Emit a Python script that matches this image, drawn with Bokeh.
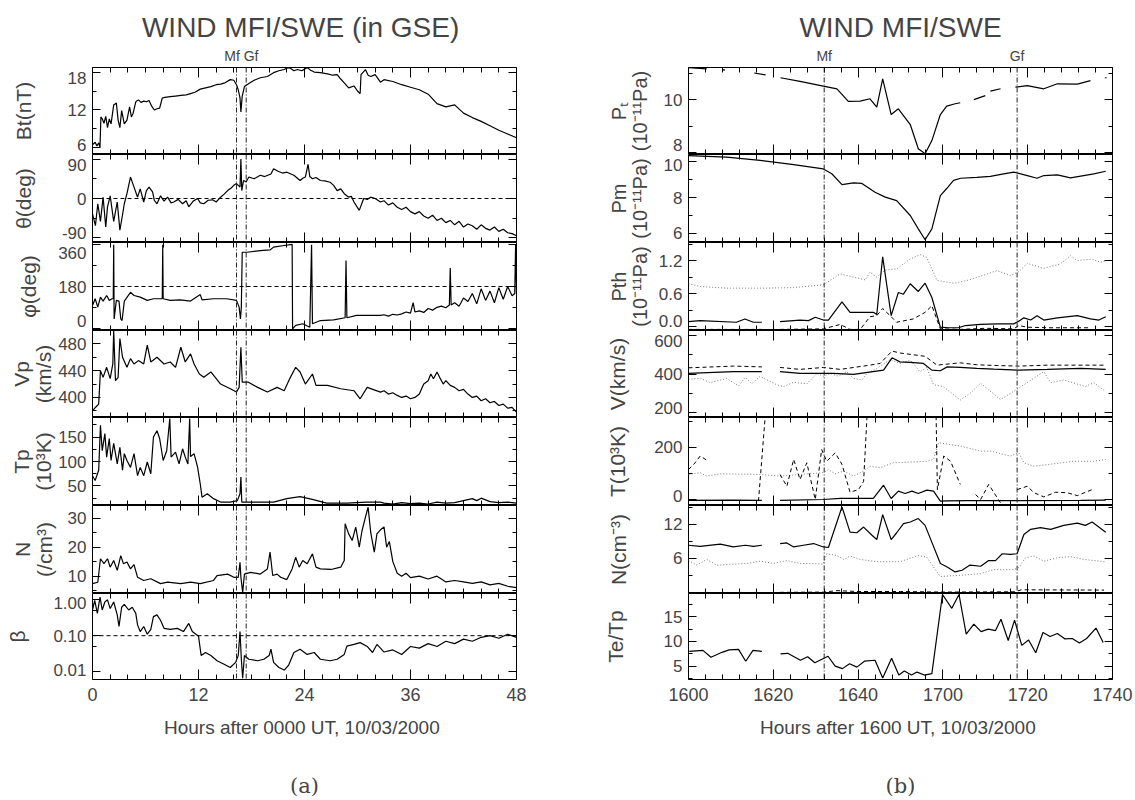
import math
from bokeh.plotting import figure
from bokeh.models import Range1d, LinearAxis, FixedTicker, Span
from bokeh.layouts import row, column
from bokeh.embed import file_html
from bokeh.resources import INLINE

NaN = float("nan")
FONT = "Liberation Sans"

# ---------------- Panel (a): hours after 0000 UT, 10/03/2000 ----------------
BT = [(0.0,6.5),(0.3,6.9),(0.5,6.3),(0.7,6.8),(0.85,6.1),(0.95,10.9),(1.1,10.6),(1.3,9.9),(1.5,11.0),(1.7,9.2),
      (1.9,10.6),(2.1,9.8),(2.4,12.8),(2.7,13.1),(2.9,10.4),(3.1,9.2),(3.3,11.9),(3.6,9.8),(3.9,10.4),(4.2,12.5),
      (4.4,10.9),(4.6,11.5),(4.9,13.3),(5.2,13.6),(5.5,13.2),(5.8,13.4),(6.1,13.3),(6.4,13.5),(6.7,12.6),(7.0,12.0),
      (7.3,12.2),(7.6,12.3),(7.9,13.9),(8.2,14.0),(8.8,14.1),(9.4,14.2),(10.0,14.3),(10.6,14.4),(11.1,14.6),(11.6,14.8),
      (12.2,15.3),(12.8,15.5),(13.4,15.7),(14.0,16.0),(14.5,16.1),(15.0,16.3),(15.6,16.8),(16.0,16.7),(16.3,16.0),
      (16.5,15.2),(16.7,13.9),(16.8,11.7),(16.95,14.2),(17.2,15.7),(17.7,16.2),(18.3,16.7),(19.0,17.1),(19.8,17.3),
      (20.5,17.9),(21.1,18.2),(21.7,18.4),(22.1,18.7),(22.4,18.6),(22.8,18.2),(23.2,18.4),(23.7,18.2),(24.3,18.7),
      (24.7,18.3),(25.1,18.0),(25.8,17.9),(26.6,17.7),(27.2,17.5),(27.7,17.6),(28.1,16.9),(28.5,16.3),(29.0,15.5),
      (29.6,15.8),(30.0,15.0),(30.2,14.7),(30.3,14.6),(30.4,17.6),(30.9,18.4),(31.2,17.5),(31.5,17.3),(32.0,17.6),
      (32.6,16.4),(33,16.8),(34,16.5),(35,16.0),(36,15.6),(37,15.2),(38,14.5),(39,13.0),(40,12.5),(41,12.8),
      (42,11.5),(43,10.8),(44,10.2),(45,9.5),(46,8.8),(47,8.2),(48,7.6)]

THETA = [(0.0,-35),(0.33,-62),(0.6,-12),(0.9,-52),(1.2,3),(1.5,-65),(1.7,-19),(2.0,6),(2.4,-52),(2.8,-8),(3.1,-72),
         (3.4,-37),(3.6,-12),(3.9,11),(4.3,49),(4.7,26),(5.1,3),(5.4,22),(5.8,-8),(6.1,18),(6.4,26),(6.8,15),(7.0,-4),
         (7.3,-12),(7.7,6),(8.1,-6),(8.5,3),(8.9,-10),(9.2,-8),(9.7,-2),(10.2,-12),(10.6,-5),(10.9,-19),(11.4,-6),
         (11.9,0),(12.2,-10),(12.6,-12),(13.1,-4),(13.6,-3),(14.0,-8),(14.5,3),(14.9,10),(15.3,18),(15.7,24),(16.0,30),
         (16.3,34),(16.5,30),(16.7,26),(16.8,90),(16.9,18),(17.1,41),(17.4,38),(17.7,49),(18.3,45),(19.0,53),(19.5,50),
         (20.2,56),(20.5,68),(21.0,62),(21.5,58),(22.0,60),(22.8,53),(23.5,41),(23.8,46),(24.1,49),(24.4,78),(24.6,50),
         (24.9,45),(25.3,48),(25.8,41),(26.3,40),(26.9,37),(27.3,30),(27.7,18),(28.1,22),(28.5,11),(29.0,3),(29.3,5),
         (29.6,-8),(30.2,-27),(30.7,0),(31.1,-2),(31.5,3),(32.0,0),(32.6,-8),(33,-5),(33.5,-15),(34,-10),(34.5,-20),
         (35,-25),(35.5,-20),(36,-30),(36.5,-35),(37,-30),(37.5,-40),(38,-45),(38.5,-38),(39,-50),(39.5,-45),(40,-55),
         (40.5,-50),(41,-60),(41.5,-52),(42,-65),(42.5,-58),(43,-62),(43.5,-70),(44,-60),(44.5,-68),(45,-72),(45.5,-65),
         (46,-75),(46.5,-70),(47,-78),(47.5,-80),(48,-85)]

PHI = [(0.0,98),(0.3,127),(0.6,91),(0.9,134),(1.2,117),(1.6,141),(1.9,120),(2.2,127),(2.35,127),(2.4,360),(2.45,40),
       (2.7,120),(3.0,117),(3.2,40),(3.35,33),(3.6,117),(4.3,155),(4.7,141),(5.4,134),(6.2,120),(6.9,127),(7.9,127),
       (7.95,360),(8.0,127),(8.8,120),(9.9,122),(11.1,117),(12.2,145),(12.4,122),(13.7,127),(15.2,127),(16.3,120),
       (16.6,91),(16.75,40),(16.85,91),(16.95,328),(17.5,328),(19.0,335),(20.1,338),(20.5,350),(21.7,357),(22.6,362),
       (22.65,-3),(23.0,12),(23.8,19),(24.6,4),(24.8,360),(24.9,19),(25.8,33),(27.3,36),(28.6,45),(28.7,292),(28.8,45),
       (29.9,55),(31.1,55),(32.6,55),(33,58),(33.5,52),(34,60),(34.5,57),(35,62),(35.5,70),(36,65),(36.3,110),(36.5,70),
       (37,75),(37.5,68),(38,85),(38.5,78),(39,90),(39.5,95),(40,88),(40.4,100),(40.5,260),(40.6,100),(41,110),
       (41.5,95),(42,130),(42.5,115),(43,150),(43.5,105),(44,170),(44.5,120),(45,160),(45.5,110),(46,175),(46.5,125),
       (47,180),(47.5,140),(47.8,150),(47.9,360),(48,150)]

VP = [(0.0,380),(0.33,385),(0.7,390),(0.9,440),(1.2,430),(1.6,445),(2.0,428),(2.3,450),(2.4,500),(2.6,425),(2.9,430),
      (3.1,488),(3.4,460),(3.9,445),(4.3,458),(4.7,450),(5.2,455),(5.8,450),(6.2,478),(6.6,453),(7.3,460),(8.1,450),
      (8.8,453),(9.4,445),(10.0,475),(10.5,453),(11.1,465),(11.5,450),(12.1,435),(12.6,430),(13.4,438),(14.5,420),
      (15.6,413),(16.3,408),(16.6,415),(16.8,475),(16.95,423),(17.6,423),(18.7,415),(19.8,408),(20.9,415),(21.7,410),
      (22.4,430),(23.0,445),(23.5,438),(24.1,420),(24.9,435),(25.3,418),(26.6,418),(28.1,413),(29.6,410),(30.3,398),
      (31.1,415),(32.6,408),(33,410),(33.5,405),(34,407),(34.5,403),(35,400),(35.5,402),(36,398),(36.5,400),(37,405),
      (37.5,420),(38,425),(38.3,435),(38.6,428),(39,438),(39.3,430),(39.7,420),(40,425),(40.5,418),(41,415),
      (41.5,410),(42,412),(42.5,405),(43,400),(43.5,402),(44,395),(44.5,398),(45,392),(45.5,394),(46,388),(46.5,390),
      (47,384),(47.5,385),(48,378)]

TP = [(0.0,71),(0.3,61),(0.7,82),(0.9,174),(1.1,122),(1.4,157),(1.6,109),(1.9,147),(2.1,102),(2.4,137),(2.8,95),
      (3.1,129),(3.4,82),(3.6,116),(3.9,102),(4.3,88),(4.7,116),(5.1,71),(5.4,88),(5.8,71),(6.2,99),(6.6,75),(6.9,150),
      (7.3,163),(7.6,147),(8.0,102),(8.4,122),(8.75,188),(8.9,109),(9.4,119),(9.8,95),(10.2,126),(10.5,109),(10.8,95),
      (11.0,188),(11.1,110),(11.5,116),(11.9,88),(12.2,54),(12.4,27),(13.0,34),(13.7,24),(14.5,17),(15.6,17),(16.4,20),
      (16.7,34),(16.8,68),(16.9,17),(18.3,17),(20.5,17),(22.0,24),(23.5,28),(25.0,22),(26.5,15),(28.8,15),(31.0,17),
      (32.6,17),(33,15),(34,13),(35,16),(36,14),(37,15),(38,13),(39,17),(40,15),(41,16),(42,20),(43,24),(43.5,20),
      (44,25),(45,18),(46,16),(47,17),(48,15)]

NA = [(0.0,7.4),(0.6,7.9),(0.9,16.0),(1.3,14.3),(1.7,16.0),(2.0,13.1),(2.4,15.4),(2.8,12.0),(3.2,17.1),(3.5,14.3),
      (3.9,14.9),(4.3,12.5),(4.7,14.0),(5.1,9.6),(5.8,8.5),(6.6,9.1),(7.7,7.4),(8.5,7.9),(10.0,7.4),(11.1,7.9),
      (12.2,7.4),(13.7,8.5),(14.1,10.2),(15.3,10.7),(16.0,9.6),(16.5,9.6),(16.7,14.8),(16.8,9.6),(17.0,4.4),(17.2,10.7),
      (17.9,11.3),(19.0,10.7),(19.8,12.5),(20.1,18.3),(20.4,10.2),(20.9,10.7),(21.3,9.6),(22.0,8.8),(22.6,12.5),
      (23.0,16.5),(23.4,13.1),(23.8,15.4),(24.3,14.3),(24.9,17.7),(25.3,13.1),(25.8,12.5),(27.0,12.3),(28.1,13.1),
      (28.5,15.4),(28.6,28.1),(29.0,24.6),(29.4,22.3),(29.8,26.9),(30.2,20.0),(30.5,25.5),(30.9,30.4),(31.2,33.8),
      (31.5,25.0),(31.9,18.3),(32.2,24.6),(32.6,26),(33,27),(33.3,20),(33.6,22),(34,15),(34.5,11),(35,10),(35.5,11),
      (36,9.5),(37,10),(38,9),(39,10),(39.5,9),(40,8),(41,8.5),(42,8),(43,7.5),(44,8),(45,7),(46,7.5),(47,6.5),(48,6)]

BETA = [(0.0,0.52),(0.25,0.97),(0.55,0.42),(0.85,1.19),(1.1,0.52),(1.4,0.87),(1.7,1.0),(2.0,0.57),(2.4,0.87),(2.8,0.38),
        (3.0,0.18),(3.3,0.62),(3.6,0.75),(4.1,0.52),(4.5,0.62),(4.9,0.42),(5.1,0.2),(5.4,0.13),(5.8,0.18),(6.2,0.11),
        (6.6,0.15),(6.9,0.34),(7.3,0.38),(7.7,0.27),(8.1,0.16),(8.8,0.15),(9.6,0.16),(10.3,0.13),(10.9,0.22),(11.3,0.13),
        (12.0,0.097),(12.3,0.028),(12.8,0.034),(13.4,0.028),(14.1,0.020),(14.9,0.016),(15.6,0.013),(16.2,0.018),
        (16.5,0.028),(16.7,0.13),(16.85,0.022),(17.0,0.0065),(17.2,0.028),(17.7,0.022),(18.7,0.020),(19.4,0.022),
        (20.0,0.028),(20.2,0.042),(20.5,0.018),(21.1,0.013),(21.7,0.011),(22.2,0.015),(22.8,0.034),(23.5,0.042),
        (24.3,0.030),(25.1,0.034),(25.8,0.022),(26.9,0.020),(27.7,0.022),(28.5,0.030),(28.8,0.051),(29.6,0.057),
        (30.3,0.064),(31.1,0.05),(31.7,0.034),(32.2,0.057),(32.6,0.045),(33,0.035),(34,0.04),(35,0.03),(36,0.05),
        (37,0.045),(38,0.06),(39,0.05),(40,0.07),(41,0.06),(42,0.08),(43,0.07),(44,0.09),(45,0.1),(46,0.085),
        (47,0.11),(48,0.09)]

MF_A, GF_A = 16.3, 17.4

# ---------------- Panel (b): minutes after 1600 UT ----------------
PT = [(0,11.22),(4.3,11.18),(4.5,NaN),(8.0,11.15),(8.6,11.13),(8.8,NaN),(15.5,11.02),(18.2,10.95),(18.4,NaN),
      (21.7,10.84),(26.3,10.7),(31.8,10.52),(35.0,10.42),(37.7,9.94),(40.5,9.95),(42.8,10.04),(44.4,9.72),(45.8,10.8),
      (47.8,9.44),(49.5,9.66),(52.3,9.06),(54.2,8.14),(55.8,7.95),(57.4,8.45),(59.4,9.44),(60.9,9.76),(62.9,9.85),
      (64.1,9.89),(64.5,NaN),(67.3,10.01),(70.0,10.16),(70.5,NaN),(71.2,10.33),(73.6,10.42),(74.0,NaN),(77.1,10.48),
      (79.9,10.54),(83.8,10.42),(87.0,10.61),(91.7,10.6),(94.8,10.73),(95.2,NaN),(98.2,10.84),(98.6,10.84)]

PM = [(0,10.33),(9.0,10.24),(16.9,10.06),(24.8,9.83),(31.8,9.59),(33.8,9.32),(36.2,8.72),(38.9,8.81),(40.9,8.78),
      (44.0,8.29),(46.4,8.02),(49.1,7.83),(52.3,7.0),(54.2,6.26),(55.8,5.65),(57.4,6.26),(59.4,8.11),(60.9,8.5),
      (62.5,8.95),(64.2,9.07),(68.0,9.12),(71.2,9.17),(74.0,9.3),(76.7,9.41),(79.9,9.22),(82.2,9.07),(83.8,9.22),
      (87.0,9.26),(90.1,9.09),(95.6,9.31),(98.4,9.46)]

PTH_SOLID = [(0,0.09),(2.75,0.11),(11.3,0.08),(13.3,0.14),(15.3,0.08),(17.3,0.08),(17.5,NaN),(21.6,0.09),(26.3,0.12),
             (28.3,0.11),(29.9,0.17),(31.8,0.12),(33.0,0.12),(36.2,0.45),(38.1,0.26),(43.6,0.26),(44.4,0.22),
             (45.8,1.27),(47.8,0.2),(49.5,0.62),(50.7,0.59),(52.3,0.78),(54.2,0.64),(55.8,0.79),(57.4,0.53),
             (59.4,-0.01),(61.3,-0.02),(63.7,-0.02),(65.3,0.02),(68.9,0.04),(72.8,0.05),(76.7,0.05),(77.9,0.1),
             (79.1,0.16),(80.7,0.12),(82.2,0.2),(83.8,0.12),(87.0,0.16),(91.7,0.2),(94.8,0.14),(96.8,0.12),(98.4,0.18)]
PTH_DASH = [(0,-0.05),(9.0,-0.05),(17.3,-0.05),(17.5,NaN),(21.6,-0.05),(31.8,-0.04),(35.8,0.04),(38.1,-0.05),
            (40.5,-0.05),(42.8,0.18),(44.4,0.2),(45.8,0.33),(47.8,0.18),(49.1,0.08),(53.0,0.14),(55.8,0.26),
            (57.4,0.38),(59.4,-0.04),(64.1,-0.05),(70,-0.03),(76.7,-0.04),(77.9,0.02),(79.9,-0.01),(85,-0.02),
            (94.8,-0.02)]
PTH_DOT = [(0,0.78),(2.75,0.73),(9.0,0.70),(18.5,0.70),(24.8,0.71),(31.8,0.76),(35.8,0.96),(38.9,0.90),(41.7,0.85),
           (42.8,0.99),(44.4,0.90),(46.4,1.03),(49.1,1.05),(52.3,1.23),(54.6,1.31),(56.2,1.26),(58.6,0.84),
           (62.5,0.79),(65.7,0.84),(69,0.92),(72.8,1.02),(75.9,0.93),(77.9,1.0),(79.9,1.15),(83.8,1.06),(87.7,1.14),
           (90.1,1.29),(91.7,1.2),(95.2,1.23),(97.2,1.17),(98.4,1.2)]

V_SOLID = [(0,403),(10.6,412),(17.3,412),(17.5,NaN),(21.6,412),(26.3,403),(34.2,403),(38.9,398),(46.0,420),(48.0,484),
           (49.9,463),(52.3,460),(55.4,455),(57.4,420),(59.4,417),(61,437),(64.1,434),(68.0,429),(72,425),(77.9,420),
           (84.6,424),(92.5,429),(98.4,424)]
V_DASH = [(0,432),(10.6,441),(17.3,437),(17.5,NaN),(21.6,434),(26.3,424),(31.8,434),(35.8,424),(42.8,446),(45.2,455),
          (48.0,519),(49.9,509),(55.8,492),(58.6,446),(64.1,458),(68.0,448),(72.8,444),(77.9,441),(84.6,446),(98.4,446)]
V_DOT = [(0,373),(2.75,378),(5.1,355),(9.0,377),(11.8,338),(13.4,383),(14.9,349),(16.9,388),(20.8,344),(22.4,335),
         (24.8,357),(27.9,349),(30.3,403),(31.8,388),(33.4,403),(35.4,388),(37.3,412),(38.9,377),(40.9,369),(42.1,403),
         (44.4,429),(47.6,475),(49.9,455),(52.3,472),(54.6,412),(56.2,434),(57.8,344),(60.1,335),(64.1,265),(66.5,301),
         (68.9,352),(73.6,267),(77.9,327),(83.8,412),(85.4,355),(88.5,369),(93.6,335),(95.6,355),(98.4,309)]

T_SOLID = [(0,-3),(10,-2),(16.9,-3),(17.3,-3),(17.5,NaN),(21.6,-3),(31.8,0),(35.8,4),(43.6,4),(46.0,55),(47.8,4),
           (49.5,32),(51.1,23),(52.7,32),(54.2,23),(56.2,36),(57.8,32),(59.4,-6),(61,-5),(65.7,-4),(77.9,-4),
           (92.5,-3),(98.4,-2)]
T_DASH = [(0,115),(1.5,140),(2.75,167),(4.7,147),(4.9,NaN),(16.5,-6),(18.1,320),(18.2,NaN),(21.6,96),(23.2,51),
          (24.8,154),(26.3,77),(27.9,141),(29.9,0),(31.4,192),(32.6,147),(34.6,179),(36.2,135),(38.1,28),(40.1,38),
          (41.3,70),(42.1,320),(42.2,NaN),(58.4,320),(58.7,38),(60.2,167),(61.8,147),(64.1,58),(64.3,NaN),(67.7,19),
          (68.9,0),(70.8,58),(73.6,-13),(73.8,NaN),(77.5,38),(79.9,51),(81.5,26),(83.8,10),(86.6,28),(89.3,26),
          (91.7,15),(95.2,38)]
T_DOT = [(0,96),(2.75,103),(4.3,90),(7.5,99),(16.9,96),(21.6,90),(26.3,96),(31.8,103),(33.0,115),(34.6,99),(36.6,109),
         (38.9,90),(41.3,109),(42.8,128),(45.2,122),(48.3,141),(52.3,144),(56.2,147),(57.8,154),(58.6,200),(59.0,218),
         (64.2,205),(68.9,186),(71.2,186),(75.9,167),(77.9,179),(79.1,141),(81.5,128),(84.6,134),(90.9,147),
         (95.6,147),(98.4,154)]

N_SOLID = [(0,8.3),(2.75,8.1),(7.5,8.5),(10.6,8.0),(13.4,8.3),(15.3,8.1),(17.3,8.3),(17.5,NaN),(21.6,8.6),(23.2,8.7),
           (24.8,8.0),(27.1,8.3),(29.5,8.6),(31.8,8.0),(33.0,7.9),(36.2,15.05),(38.1,10.6),(39.7,10.5),(41.3,11.5),
           (43.2,10.1),(44.4,9.3),(45.8,13.7),(47.8,9.3),(49.1,10.5),(50.7,12.1),(52.3,12.4),(54.2,13.0),(55.8,11.8),
           (59.4,5.1),(60.9,4.5),(62.9,3.6),(64.5,3.9),(66.4,4.8),(68.9,4.6),(70.8,5.6),(72.4,5.6),(74.0,6.8),
           (75.9,6.7),(77.5,6.8),(79.1,10.2),(80.7,11.1),(83.0,11.4),(85.4,11.1),(88.5,11.8),(91.7,12.2),(93.6,11.8),
           (95.2,12.4),(98.4,10.6)]
N_DOT = [(0,5.6),(2.0,4.8),(4.3,5.8),(6.7,4.8),(13.8,5.1),(16.9,5.5),(20.0,5.1),(23.2,5.6),(26.3,5.1),(31.8,5.0),
         (32.6,6.8),(35.0,6.5),(36.6,5.8),(38.1,6.4),(40.5,5.8),(44.4,5.4),(49.9,5.4),(54.2,6.5),(56.2,6.2),
         (58.6,3.6),(59.4,2.8),(64.2,3.0),(68.9,3.3),(72.0,4.0),(76.7,4.0),(77.9,4.4),(79.5,6.1),(81.5,6.4),
         (83.8,5.5),(87.0,6.1),(90.1,6.3),(93.2,5.8),(98.4,5.4)]
N_DASH = [(21.6,0.0),(31.8,0.05),(35.0,0.3),(40.0,0.15),(50.0,0.15),(60.0,0.05),(77.0,0.1),(78.5,0.45),(98.0,0.4)]

TETP = [(0.2,8.0),(3.4,8.2),(5.3,6.8),(7.9,7.8),(9.6,8.3),(11.8,8.4),(13.5,6.0),(15.2,8.2),(17.3,8.0),(17.6,NaN),
        (21.7,7.5),(23.4,7.6),(26.4,6.2),(28.1,6.9),(29.8,5.7),(32.9,7.0),(34.6,5.0),(36.3,4.5),(38.0,5.5),(39.7,4.8),
        (41.5,6.0),(44.0,6.2),(45.8,2.6),(47.9,6.6),(49.6,3.2),(50.9,4.0),(52.6,3.2),(53.9,3.8),(55.6,3.2),(57.4,3.5),
        (59.9,19.5),(62.1,16.7),(63.8,19.5),(65.5,11.5),(67.3,13.5),(69.0,12.0),(70.7,12.5),(72.4,12.2),(73.7,14.5),
        (75.4,10.2),(76.9,14.3),(78.6,9.2),(80.2,10.3),(81.9,7.7),(83.6,11.8),(85.3,11.0),(87.0,11.6),(88.8,10.5),
        (90.5,10.6),(92.2,9.7),(93.9,10.6),(96.1,12.7),(97.8,9.8)]

MF_B, GF_B = 32.0, 77.5

HOUR_MAJOR = [0, 12, 24, 36, 48]
HOUR_LABELS = ["0", "12", "24", "36", "48"]
HOUR_MINOR = [h for h in range(0, 49, 2) if h % 12]
MIN_MAJOR = [0, 20, 40, 60, 80, 100]
MIN_LABELS = ["1600", "1620", "1640", "1700", "1720", "1740"]
MIN_MINOR = [m for m in range(0, 101, 4) if m % 20]

FRAME_W = 424
FRAME_H = [87, 88, 88, 87, 88, 88, 88]
TOP_B, BOT_B = 67, 119
EDGE_PAD = 10  # keep edge tick labels inside their own panel (pixels)


def segments(pairs):
    out, cur = [], []
    for x, y in pairs:
        if isinstance(y, float) and math.isnan(y):
            if cur:
                out.append(cur)
            cur = []
        else:
            cur.append((x, y))
    if cur:
        out.append(cur)
    return out


def tick_only_axes(p, side, majors, minors, lmaj, lmin):
    for ticks, ln in ((majors, lmaj), (minors, lmin)):
        ax = LinearAxis(ticker=FixedTicker(ticks=[], minor_ticks=list(ticks)))
        ax.axis_line_color = None
        ax.major_tick_in = 0
        ax.major_tick_out = 0
        ax.minor_tick_in = ln
        ax.minor_tick_out = 0
        ax.minor_tick_line_color = "black"
        ax.minor_tick_line_width = 1
        p.add_layout(ax, side)


def label_axis(p, side, positions, texts, font_size, standoff):
    ax = LinearAxis(ticker=FixedTicker(ticks=list(positions)))
    ax.axis_line_color = None
    ax.major_tick_in = 0
    ax.major_tick_out = 0
    ax.minor_tick_in = 0
    ax.minor_tick_out = 0
    ax.major_label_overrides = {pos: txt for pos, txt in zip(positions, texts)}
    ax.major_label_text_font = FONT
    ax.major_label_text_font_size = font_size
    ax.major_label_standoff = standoff
    p.add_layout(ax, side)
    return ax


def inside_positions(values, lo, hi, height, log):
    f = (lambda v: math.log10(v)) if log else (lambda v: v)
    g = (lambda u: 10 ** u) if log else (lambda u: u)
    a, b = f(lo), f(hi)
    pad = EDGE_PAD * (b - a) / height
    return [g(min(max(f(v), a + pad), b - pad)) for v in values]


def make_panel(i, xr, spec, lb, rb, xmaj, xlabels, xmin):
    yr, ylog, ymaj, ylabs, ymin, ylabel, lab_standoff, lab_size = spec
    top = TOP_B if i == 0 else 0
    bot = BOT_B if i == 6 else 0
    p = figure(width=lb + FRAME_W + rb, height=FRAME_H[i] + top + bot, x_range=xr, y_range=yr,
               y_axis_type="log" if ylog else "linear",
               x_axis_location=None, y_axis_location=None,
               output_backend="svg", toolbar_location=None,
               min_border_left=lb, min_border_right=rb, min_border_top=top, min_border_bottom=bot)
    p.grid.visible = False
    p.outline_line_color = "black"
    p.outline_line_width = 1
    p.background_fill_color = "white"
    p.border_fill_color = "white"
    tick_only_axes(p, "left", ymaj, ymin, 8, 4)
    tick_only_axes(p, "right", ymaj, ymin, 8, 4)
    tick_only_axes(p, "above", xmaj, xmin, 10, 5)
    tick_only_axes(p, "below", xmaj, xmin, 10, 5)
    pos = inside_positions(ymaj, yr.start, yr.end, FRAME_H[i], ylog)
    ly = label_axis(p, "left", pos, ylabs, "17px", 6)
    ly.axis_label = ylabel
    ly.axis_label_text_font = FONT
    ly.axis_label_text_font_size = lab_size
    ly.axis_label_text_font_style = "normal"
    ly.axis_label_text_line_height = 0.95
    ly.axis_label_standoff = lab_standoff
    bx = None
    if i == 6:
        bx = label_axis(p, "below", xmaj, xlabels, "18px", 8)
    return p, bx


def add_marks(p, mf, gf):
    for loc in (mf, gf):
        p.add_layout(Span(location=loc, dimension="height", line_color="#222222",
                          line_width=1, line_dash="5 2 1 2"))


def hline(p, loc):
    p.add_layout(Span(location=loc, dimension="width", line_color="black", line_width=1, line_dash="4 3"))


def draw(p, pairs, color="black", dash="solid", width=1.2):
    for seg in segments(pairs):
        p.line([a for a, _ in seg], [b for _, b in seg], line_color=color, line_width=width, line_dash=dash)


def top_title_axis(p, ticks, labels, title):
    ax = label_axis(p, "above", ticks, labels, "14px", 4)
    ax.axis_label = title
    ax.axis_label_text_font = FONT
    ax.axis_label_text_font_size = "28px"
    ax.axis_label_text_font_style = "normal"
    ax.axis_label_standoff = 2


def bottom_labels(bx, p, xlabel, tag):
    bx.axis_label = xlabel
    bx.axis_label_text_font = FONT
    bx.axis_label_text_font_size = "19px"
    bx.axis_label_text_font_style = "normal"
    bx.axis_label_standoff = 13
    tg = LinearAxis(ticker=FixedTicker(ticks=[]))
    tg.axis_line_color = None
    tg.major_tick_in = 0
    tg.major_tick_out = 0
    tg.minor_tick_in = 0
    tg.minor_tick_out = 0
    tg.axis_label = tag
    tg.axis_label_text_font = "DejaVu Serif"
    tg.axis_label_text_font_size = "21px"
    tg.axis_label_text_font_style = "normal"
    tg.axis_label_standoff = 33
    p.add_layout(tg, "below")


# ---------------- build left column ----------------
xa = Range1d(0, 48)
LB_A, RB_A = 92, 34
left_specs = [
    (Range1d(4.96, 18.72), False, [6, 12, 18], ["6", "12", "18"], [9, 15], "Bt(nT)", 30, "21px"),
    (Range1d(-100.3, 100.3), False, [-90, 0, 90], ["-90", "0", "90"], [-45, 45], "θ(deg)", 24, "21px"),
    (Range1d(-10, 370), False, [0, 180, 360], ["0", "180", "360"], [90, 270], "φ(deg)", 15, "21px"),
    (Range1d(370, 500), False, [400, 440, 480], ["400", "440", "480"], [380, 420, 460, 500], "Vp\n(km/s)", 0, "21px"),
    (Range1d(10, 190), False, [50, 100, 150], ["50", "100", "150"], [25, 75, 125, 175], "Tp\n(10³K)", 0, "21px"),
    (Range1d(4, 34.4), False, [10, 20, 30], ["10", "20", "30"], [5, 15, 25], "N\n(/cm³)", 9, "21px"),
    (Range1d(0.006, 1.5), True, [0.01, 0.1, 1.0], ["0.01", "0.10", "1.00"], [0.05, 0.5], "β", 21, "21px"),
]
left_series = [BT, THETA, PHI, VP, TP, NA, BETA]
left_figs = []
for i, spec in enumerate(left_specs):
    p, bx = make_panel(i, xa, spec, LB_A, RB_A, HOUR_MAJOR, HOUR_LABELS, HOUR_MINOR)
    add_marks(p, MF_A, GF_A)
    if i == 1:
        hline(p, 0)
    if i == 2:
        hline(p, 180)
    if i == 6:
        hline(p, 0.1)
    draw(p, left_series[i])
    if i == 0:
        top_title_axis(p, [16.85], ["Mf Gf"], "WIND MFI/SWE  (in GSE)")
    if i == 6:
        bottom_labels(bx, p, "Hours after 0000  UT, 10/03/2000", "(a)")
    left_figs.append(p)

# ---------------- build right column ----------------
xb = Range1d(0, 100)
LB_B, RB_B = 138, 23
right_specs = [
    (Range1d(7.92, 11.23), False, [8, 10], ["8", "10"], [9, 11], "Pₜ\n(10⁻¹¹Pa)", 10, "20px"),
    (Range1d(5.5, 10.39), False, [6, 8, 10], ["6", "8", "10"], [7, 9], "Pm\n(10⁻¹¹Pa)", 10, "20px"),
    (Range1d(-0.07, 1.53), False, [0.0, 0.6, 1.2], ["0.0", "0.6", "1.2"], [0.3, 0.9, 1.5], "Pth\n(10⁻¹¹Pa)", 5, "20px"),
    (Range1d(174, 626), False, [200, 400, 600], ["200", "400", "600"], [300, 500], "V(km/s)", 22, "21px"),
    (Range1d(-23, 315), False, [0, 200], ["0", "200"], [100, 300], "T(10³K)", 22, "21px"),
    (Range1d(-0.2, 15.3), False, [6, 12], ["6", "12"], [3, 9, 15], "N(cm⁻³)", 31, "21px"),
    (Range1d(2.3, 19.7), False, [5, 10, 15], ["5", "10", "15"], [2.5, 7.5, 12.5, 17.5], "Te/Tp", 34, "21px"),
]
right_figs = []
for i, spec in enumerate(right_specs):
    p, bx = make_panel(i, xb, spec, LB_B, RB_B, MIN_MAJOR, MIN_LABELS, MIN_MINOR)
    add_marks(p, MF_B, GF_B)
    if i == 0:
        draw(p, PT)
        top_title_axis(p, [MF_B, GF_B], ["Mf", "Gf"], "WIND MFI/SWE")
    elif i == 1:
        draw(p, PM)
    elif i == 2:
        draw(p, PTH_DOT, "#7a7a7a", "1 2", 1)
        draw(p, PTH_DASH, "black", "4 3", 1)
        draw(p, PTH_SOLID)
    elif i == 3:
        draw(p, V_DOT, "#7a7a7a", "1 2", 1)
        draw(p, V_DASH, "black", "4 3", 1)
        draw(p, V_SOLID)
    elif i == 4:
        draw(p, T_DOT, "#7a7a7a", "1 2", 1)
        draw(p, T_DASH, "black", "4 3", 1)
        draw(p, T_SOLID)
    elif i == 5:
        draw(p, N_DOT, "#7a7a7a", "1 2", 1)
        draw(p, N_DASH, "black", "4 3", 1)
        draw(p, N_SOLID)
    else:
        draw(p, TETP)
        bottom_labels(bx, p, "Hours after 1600  UT, 10/03/2000", "(b)")
    right_figs.append(p)

layout = row(column(*left_figs, spacing=0), column(*right_figs, spacing=0), spacing=0)
open("out.html", "w").write(file_html(layout, INLINE))
